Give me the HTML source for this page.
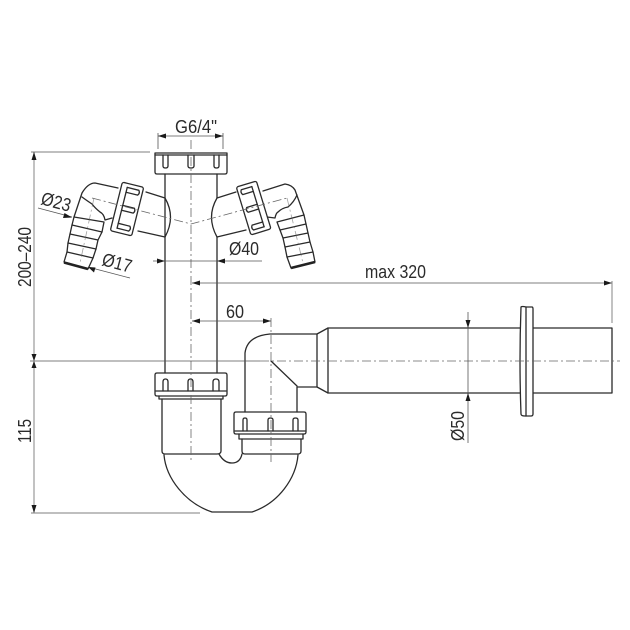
<!DOCTYPE html>
<html><head><meta charset="utf-8"><style>
html,body{margin:0;padding:0;background:#fff;width:630px;height:630px;overflow:hidden}
svg{display:block}
text{font-family:"Liberation Sans",sans-serif;font-size:18.5px;fill:#2b2b2b}
.o{fill:none;stroke:#2a2a2a;stroke-width:1.3;stroke-linejoin:round;stroke-linecap:round}
.w{fill:#fff;stroke:#2a2a2a;stroke-width:1.3;stroke-linejoin:round}
.t{fill:none;stroke:#555;stroke-width:.8}
.g{fill:none;stroke:#999;stroke-width:1.2}
.c{fill:none;stroke:#666;stroke-width:.8;stroke-dasharray:9 3 2 3}
.a{fill:#1a1a1a;stroke:none}
</style></head><body>
<svg width="630" height="630" viewBox="0 0 630 630" xmlns="http://www.w3.org/2000/svg">

<!-- main vertical pipe -->
<path class="o" d="M165 174V373M217 174V198M217 237V373"/>

<!-- top nut -->
<path class="o" d="M155 153H227V172Q227 174 225 174H157Q155 174 155 172Z"/>
<path class="o" d="M155 155H227"/>
<path class="o" d="M163 155V166Q163 168 165.500 168Q168 168 168 166V155"/>
<path class="o" d="M188 155V166Q188 168 191 168Q194 168 194 166V155"/>
<path class="o" d="M214 155V166Q214 168 216.500 168Q219 168 219 166V155"/>

<!-- left branch -->
<path class="o" d="M146 192L165 198Q176 217 165 237L138 231"/>
<!-- left elbow -->
<path class="o" d="M118 188L95 183Q88 183 82 193L74 217"/>
<path class="o" d="M112 218L105 220Q104 214 100 212Q95 208 92 204Q86 200 82 197"/>
<!-- left hose -->
<path class="o" d="M74 217L104 222L102 232L98 240L96 249L93 258L88 269L64 262L67 252L68 243L70 234L72 225Z"/>
<path class="o" d="M72 225L102 232M70 234L98 240M68 243L96 249M67 252L93 258"/>
<path d="M64 262.500L88 269" stroke="#222" stroke-width="2.600" fill="none"/>
<!-- left side nut -->
<g transform="rotate(14 127 209)">
<rect class="w" x="116" y="184" width="22" height="50" rx="2"/>
<path class="o" d="M122 188V230"/>
<path class="o" d="M122 188H134Q136 190.500 134 193H122"/>
<path class="o" d="M122 206.500H134Q136 209 134 211.500H122"/>
<path class="o" d="M122 225H134Q136 227.500 134 230H122"/>
</g>

<!-- right branch -->
<path class="o" d="M236 192L217 198Q206 217 217 237L246 230"/>
<!-- right elbow -->
<path class="o" d="M263 191L285 184Q292 185 295 190L304 215"/>
<path class="o" d="M267 217L275 218Q276 213 278 212Q282 208 288 207Q294 202 297 195"/>
<!-- right hose -->
<path class="o" d="M277 222L304 215L306 224L308 233L310 242L313 252L315 262L291 268L287 257L285 247L283 238L280 230Z"/>
<path class="o" d="M280 230L306 224M283 238L308 233M285 247L310 242M287 257L313 252"/>
<path d="M291 268L315 262" stroke="#222" stroke-width="2.600" fill="none"/>
<!-- right side nut -->
<g transform="rotate(-17 253.500 207.500)">
<rect class="w" x="243" y="183" width="21" height="50" rx="2"/>
<path class="o" d="M258 187V229"/>
<path class="o" d="M258 187H247Q245 189.500 247 192H258"/>
<path class="o" d="M258 205.500H247Q245 208 247 210.500H258"/>
<path class="o" d="M258 224H247Q245 226.500 247 229H258"/>
</g>

<!-- lower left nut + body -->
<path class="o" d="M157 373H225Q227 373 227 375V394Q227 396 225 396H157Q155 396 155 394V375Q155 373 157 373Z"/>
<path class="o" d="M156 391H226M159 396V399H223V396"/>
<path class="o" d="M163 391V382Q163 379 165.500 379Q168 379 168 382V391"/>
<path class="o" d="M188 391V382Q188 379 190.500 379Q193 379 193 382V391"/>
<path class="o" d="M213 391V382Q213 379 216 379Q219 379 219 382V391"/>
<path class="o" d="M162 399V451Q162 454 165 454H217Q221 454 221 451V399"/>

<!-- U trap -->
<path class="o" d="M164 455C166 478 185 503 212 512H252C279 503 296 478 298 455"/>
<path class="o" d="M219 454Q224 463 232 463Q240 463 242 454"/>

<!-- lower right nut + body -->
<path class="o" d="M236 412H304Q306 412 306 414V432Q306 434 304 434H236Q234 434 234 432V414Q234 412 236 412Z"/>
<path class="o" d="M235 431H305M239 434V439H303V434"/>
<path class="o" d="M243 431V420Q243 418 245 418Q247 418 247 420V431"/>
<path class="o" d="M268 431V420Q268 418 270.500 418Q273 418 273 420V431"/>
<path class="o" d="M293 431V420Q293 418 295.500 418Q298 418 298 420V431"/>
<path class="o" d="M242 439V451Q242 454 245 454H298Q301 454 301 451V439"/>

<!-- elbow -->
<path class="o" d="M245 412V353Q247 336 270 334H317L328 328"/>
<path class="o" d="M297 412V387H317L328 393"/>
<path class="o" d="M317 334V387M271 361L297 386"/>

<!-- horizontal pipe -->
<path class="o" d="M328 328H521M533 328H612V393H533M521 393H328V328"/>
<path class="w" d="M521 307Q522 306 526 307H532Q533 307 533 309V414Q533 416 531 416H525Q521 416 521 414Q519 361 521 307Z"/>
<path class="o" d="M526 307V416"/>

<!-- centre lines -->
<path class="c" d="M191 140V462M271 318V462"/>
<path class="c" d="M92 198L191 224L287 198"/>
<path class="c" d="M94 198L80 263M287 198L303 263" stroke-opacity=".6"/>
<path class="t" d="M30 361H260"/>
<path class="c" d="M260 361H620"/>

<!-- dim: left vertical -->
<path class="g" d="M34 152V513"/>
<path class="t" d="M31 152H150"/>
<path class="g" d="M31 513H200"/>
<path class="a" d="M34 152l-2.500 8h5zM34 361l-2.500-7h5zM34 361l-2.500 7h5zM34 513l-2.500-8h5z"/>

<!-- G6/4 -->
<path class="t" d="M158 136H223M158 133V149M223 133V149"/>
<path class="a" d="M158 136l8-2.500v5zM223 136l-8-2.500v5z"/>
<!-- O40 -->
<path class="t" d="M153 261H262"/>
<path class="a" d="M165 261l-8-2.500v5zM217 261l8-2.500v5z"/>
<!-- max 320 -->
<path class="t" d="M192 283H612"/>
<path class="g" d="M612 281V323"/>
<path class="a" d="M192 283l8-2.500v5zM612 283l-8-2.500v5z"/>
<!-- 60 -->
<path class="t" d="M192 321H271"/>
<path class="a" d="M192 321l8-2.500v5zM271 321l-8-2.500v5z"/>
<!-- O50 -->
<path class="t" d="M468 312V443"/>
<path class="a" d="M468 328l-2.500-8h5zM468 393l-2.500 8h5z"/>
<!-- O23, O17 leaders -->
<path class="t" d="M38 208L72 217M130 278L88 267"/>
<path class="a" d="M72 217.500l-7.500-4.500-1.500 5zM88 267l7.500 .5-1.500 5z"/>

<!-- labels -->
<text x="175" y="133" textLength="42" lengthAdjust="spacingAndGlyphs">G6/4"</text>
<text x="229" y="255" textLength="30" lengthAdjust="spacingAndGlyphs">Ø40</text>
<text x="365" y="278" textLength="61" lengthAdjust="spacingAndGlyphs">max 320</text>
<text x="226" y="318" textLength="18" lengthAdjust="spacingAndGlyphs">60</text>
<text transform="translate(464 441) rotate(-90)" textLength="30" lengthAdjust="spacingAndGlyphs">Ø50</text>
<text transform="translate(31 287) rotate(-90)" textLength="60" lengthAdjust="spacingAndGlyphs">200–240</text>
<text transform="translate(31 443) rotate(-90)" textLength="24" lengthAdjust="spacingAndGlyphs">115</text>
<text transform="translate(40 204) rotate(15)" textLength="30" lengthAdjust="spacingAndGlyphs">Ø23</text>
<text transform="translate(101 265) rotate(15)" textLength="30" lengthAdjust="spacingAndGlyphs">Ø17</text>
</svg>
</body></html>
